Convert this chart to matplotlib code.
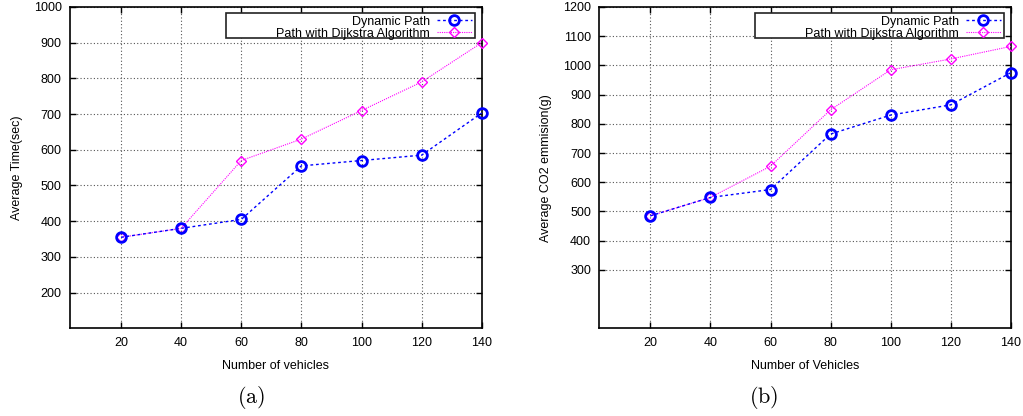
import matplotlib.pyplot as plt
from matplotlib.patches import Rectangle
import numpy as np

plt.rcParams['font.family'] = ['Liberation Sans', 'DejaVu Sans']
plt.rcParams['mathtext.fontset'] = 'cm'

vehicles = [20, 40, 60, 80, 100, 120, 140]

# (a) average time
time_dynamic = [355, 380, 405, 555, 570, 585, 703]
time_dijkstra = [355, 380, 570, 630, 710, 790, 900]

# (b) CO2 emission
co2_dynamic = [485, 548, 575, 765, 830, 865, 975]
co2_dijkstra = [485, 548, 655, 848, 985, 1022, 1065]

fig = plt.figure(figsize=(10.23, 4.16), dpi=100)
ax1 = fig.add_axes([0.0684, 0.2108, 0.4025, 0.7724])
ax2 = fig.add_axes([0.5858, 0.2108, 0.4023, 0.7724])


def draw(ax, dyn, dij, ylim, yticks, xlabel, ylabel):
    ax.plot(vehicles, dyn, color='blue', linestyle=(0, (2, 2)), linewidth=1,
            marker='o', markersize=7, markerfacecolor='none',
            markeredgewidth=2, label='Dynamic Path', zorder=4, clip_on=False)
    ax.plot(vehicles, dij, color='#ff00ff', linestyle=(0, (1, 1)), linewidth=0.8,
            marker='D', markersize=5.5, markerfacecolor='none',
            markeredgewidth=1, label='Path with Dijkstra Algorithm', zorder=3, clip_on=False)
    ax.set_xlim(3, 140)
    ax.set_ylim(*ylim)
    ax.set_xticks(vehicles)
    ax.set_yticks(yticks)
    ax.grid(True, color='#555555', linestyle=(0, (1, 2)), linewidth=0.8)
    ax.tick_params(direction='in', top=True, right=True, labelsize=9, length=4,
                   width=1, pad=6)
    for s in ax.spines.values():
        s.set_linewidth(1.2)
    ax.set_xlabel(xlabel, fontsize=9, labelpad=8)
    ax.set_ylabel(ylabel, fontsize=9, labelpad=8)
    # gnuplot style key box, wider than its entries
    ax.add_patch(Rectangle((0.379, 0.904), 0.604, 0.077, transform=ax.transAxes,
                           facecolor='white', edgecolor='#222222', linewidth=1.2,
                           zorder=5))
    leg = ax.legend(loc='upper right', bbox_to_anchor=(0.983, 0.983),
                    markerfirst=False, fontsize=9, frameon=False,
                    borderpad=0.05, labelspacing=0.0, handlelength=2.8,
                    handletextpad=0.55, borderaxespad=0.2)
    leg.set_zorder(6)


draw(ax1, time_dynamic, time_dijkstra, (100, 1000),
     np.arange(200, 1001, 100), 'Number of vehicles', 'Average Time(sec)')
draw(ax2, co2_dynamic, co2_dijkstra, (100, 1200),
     np.arange(300, 1201, 100), 'Number of Vehicles', 'Average CO2 emmision(g)')

fig.text(0.2455, 0.045, r'$\mathrm{(a)}$', ha='center', va='center', fontsize=16)
fig.text(0.7468, 0.045, r'$\mathrm{(b)}$', ha='center', va='center', fontsize=16)

fig.savefig('out.png', dpi=100)
